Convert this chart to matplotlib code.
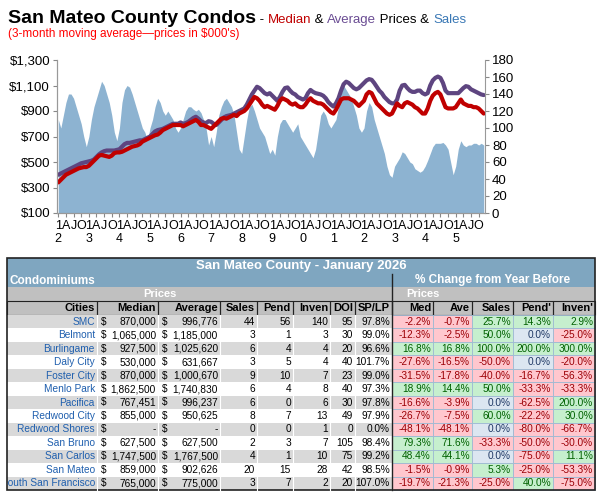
import numpy as np
import matplotlib
matplotlib.use("Agg")
import matplotlib.pyplot as plt
from matplotlib.patches import Rectangle

plt.rcParams['font.family'] = ['Liberation Sans', 'DejaVu Sans']

# monthly data Jan 2012 .. Dec 2025
sales = [110,100,115,130,140,140,135,125,115,105,90,78,
         90,110,125,135,145,155,150,140,130,115,95,85,
         100,130,145,150,148,140,130,120,110,100,95,85,
         100,110,125,135,130,120,115,120,115,110,100,95,
         100,110,120,125,125,122,120,122,118,110,100,80,
         90,78,95,115,125,132,135,130,125,115,95,75,
         70,90,110,125,128,120,110,100,95,90,80,70,
         75,68,90,105,110,110,105,100,95,100,105,90,
         85,80,75,70,65,75,95,115,120,115,105,100,
         105,110,125,140,150,145,140,135,125,115,100,95,
         100,120,130,125,110,100,90,80,70,55,45,42,
         55,60,65,72,70,65,60,58,52,50,48,50,
         55,62,70,78,82,82,82,83,80,75,60,45,
         55,75,85,80,78,80,80,82,82,80,82,80]
average = [400,410,420,430,440,450,460,470,480,490,495,500,
           505,510,520,540,560,575,585,590,590,590,590,595,
           600,620,640,650,650,655,660,665,670,670,680,690,
           700,720,740,750,755,760,770,780,790,800,800,800,
           810,800,805,815,830,845,855,840,820,810,805,820,
           815,800,790,810,830,850,860,865,870,880,890,900,
           910,920,950,990,1030,1060,1090,1080,1060,1040,1030,1040,
           1020,1000,980,1010,1050,1080,1085,1060,1040,1030,1010,1000,
           990,1000,1040,1065,1050,1040,1035,1030,1020,1000,970,950,
           935,960,1000,1060,1110,1130,1120,1100,1080,1070,1080,1100,
           1120,1140,1150,1145,1120,1090,1060,1040,1010,990,970,960,
           960,990,1060,1100,1105,1080,1060,1050,1050,1060,1060,1040,
           1030,1040,1100,1140,1160,1170,1160,1120,1060,1040,1040,1040,
           1040,1040,1060,1080,1095,1090,1070,1060,1050,1040,1030,1025]
median = [340,360,380,400,410,420,430,440,450,455,460,460,
          470,490,510,530,550,555,550,545,540,550,570,575,
          575,580,590,600,610,620,625,630,640,660,670,680,
          690,700,710,715,730,750,760,770,780,790,790,790,
          790,780,790,800,810,820,830,815,790,790,780,770,
          760,780,800,820,840,845,840,850,860,870,860,880,
          890,900,920,950,980,1010,1000,980,950,930,940,930,
          920,910,940,980,1000,990,980,960,950,960,940,930,
          930,950,980,1000,980,970,960,960,950,930,910,890,
          880,910,950,990,1000,1000,1000,990,980,960,940,960,
          980,1030,1050,1040,1000,960,940,920,900,880,870,880,
          920,960,940,930,960,970,960,950,930,920,900,880,
          880,920,980,1020,1040,1050,1030,980,930,920,920,920,
          930,960,990,960,950,940,940,930,930,920,900,880]
first_year = 2012

cities = ["SMC", "Belmont", "Burlingame", "Daly City", "Foster City", "Menlo Park",
          "Pacifica", "Redwood City", "Redwood Shores", "San Bruno", "San Carlos",
          "San Mateo", "South San Francisco"]
med_price = ["870,000", "1,065,000", "927,500", "530,000", "870,000", "1,862,500",
             "767,451", "855,000", "-", "627,500", "1,747,500", "859,000", "765,000"]
avg_price = ["996,776", "1,185,000", "1,025,620", "631,667", "1,000,670", "1,740,830",
             "996,237", "950,625", "-", "627,500", "1,767,500", "902,626", "775,000"]
n_sales = [44, 3, 6, 3, 9, 6, 6, 8, 0, 2, 4, 20, 3]
n_pend = [56, 1, 4, 5, 10, 4, 0, 7, 0, 3, 1, 15, 7]
n_inven = [140, 3, 4, 4, 7, 8, 6, 13, 1, 7, 10, 28, 2]
doi = [95, 30, 20, 40, 23, 40, 30, 49, 0, 105, 75, 42, 20]
sp_lp = ["97.8%", "99.0%", "96.6%", "101.7%", "99.0%", "97.3%", "97.8%", "97.9%",
         "0.0%", "98.4%", "99.2%", "98.5%", "107.0%"]
chg_med = [-2.2, -12.3, 16.8, -27.6, -31.5, 18.9, -16.6, -26.7, -48.1, 79.3, 48.4, -1.5, -19.7]
chg_ave = [-0.7, -2.5, 16.8, -16.5, -17.8, 14.4, -3.9, -7.5, -48.1, 71.6, 44.1, -0.9, -21.3]
chg_sales = [25.7, 50.0, 100.0, -50.0, -40.0, 50.0, 0.0, 60.0, 0.0, -33.3, 0.0, 5.3, -25.0]
chg_pend = [14.3, 0.0, 200.0, 0.0, -16.7, -33.3, -62.5, -22.2, -80.0, -50.0, -75.0, -25.0, 40.0]
chg_inven = [2.9, -25.0, 300.0, -20.0, -56.3, -33.3, 200.0, 30.0, -66.7, -30.0, 11.1, -53.3, -75.0]

W, H = 605, 495
fig = plt.figure(figsize=(W / 100, H / 100), dpi=100)

# ---- chart ----
x = np.arange(len(sales))
ax = fig.add_axes([57 / W, 1 - 213 / H, 428 / W, 153 / H])
axs = ax.twinx()
ax.set_zorder(2)
ax.patch.set_visible(False)
axs.fill_between(x, sales, 0, color="#8DB3D1", lw=0)
axs.set_ylim(0, 180)
axs.set_yticks(range(0, 181, 20))
ax.plot(x, average, color="#5E4580", lw=3, solid_capstyle="round")
ax.plot(x, median, color="#C00000", lw=3, solid_capstyle="round")
ax.set_ylim(100, 1300)
ax.set_yticks(range(100, 1301, 200))
ax.set_yticklabels(["$%s" % format(v, ",") for v in range(100, 1301, 200)])
ax.set_xlim(-0.5, len(sales) - 0.5)
ticks = list(range(0, len(sales), 3))
labels = []
for t in ticks:
    m = t % 12
    if m == 0:
        labels.append("1\n%d" % ((first_year + t // 12) % 10))
    else:
        labels.append({3: "A", 6: "J", 9: "O"}[m] + "\n ")
ax.set_xticks(ticks)
ax.set_xticklabels(labels, va="top", linespacing=1.15)
for a in (ax, axs):
    a.tick_params(labelsize=9.5, length=3, color="#888888", pad=2)
    for s in a.spines.values():
        s.set_color("#999999")
    a.spines["top"].set_visible(False)
ax.tick_params(axis="x", labelsize=9)
ax.spines["right"].set_visible(False)

# ---- title ----
def pieces(y, parts):
    xpos = 8
    r = fig.canvas.get_renderer()
    for txt, col, size, weight in parts:
        t = fig.text(xpos / W, 1 - y / H, txt, color=col, fontsize=size, fontweight=weight,
                     va="baseline", ha="left")
        xpos += t.get_window_extent(r).width
    return xpos

pieces(23, [("San Mateo County Condos", "black", 14, "bold"),
            (" - ", "black", 9.5, "normal"), ("Median", "#C00000", 9.5, "normal"),
            (" & ", "black", 9.5, "normal"), ("Average", "#6A4C93", 9.5, "normal"),
            (" Prices & ", "black", 9.5, "normal"), ("Sales", "#3A78B5", 9.5, "normal")])
fig.text(8 / W, 1 - 37 / H, "(3-month moving average\u2014prices in $000's)",
         color="#FF0000", fontsize=8.5, va="baseline")

# ---- table ----
tb = fig.add_axes([0, 0, 1, 1])
tb.set_xlim(0, W)
tb.set_ylim(H, 0)
tb.axis("off")
blue = "#7FA6C0"
gray = "#C0C0C0"
fs = 7.3

def box(x0, y0, x1, y1, fc, ec="none", lw=0.8):
    tb.add_patch(Rectangle((x0, y0), x1 - x0, y1 - y0, fc=fc, ec=ec, lw=lw))

def put(xx, yy, s, ha="right", col="black", size=fs, weight="normal", clip=False):
    t = tb.text(xx, yy, s, ha=ha, va="center", color=col, fontsize=size, fontweight=weight)
    if clip:
        t.set_clip_box(tb.bbox)
        t.set_clip_on(True)
        t.set_clip_path(Rectangle((L, 0), W, H, transform=tb.transData))

L, R = 7, 595
box(L, 258, R, 274, blue)
put((L + R) / 2, 266, "San Mateo County - January 2026", "center", "white", 9.5, "bold")
box(L, 274, 392, 287, blue)
box(392, 274, R, 287, blue)
put(10, 280.5, "Condominiums", "left", "white", 8.5, "bold")
put(493, 280.5, "% Change from Year Before", "center", "white", 8.5, "bold")
box(L, 287, 392, 301, gray)
box(392, 287, R, 301, gray)
put(160, 294, "Prices", "center", "white", 8, "bold")
put(423, 294, "Prices", "center", "white", 8, "bold")
box(L, 301, R, 315, gray)
cols = [(L, 97), (97, 158), (158, 220), (220, 257), (257, 293), (293, 330),
        (330, 355), (355, 392), (392, 433), (433, 472), (472, 513), (513, 553), (553, R)]
heads = ["Cities", "Median", "Average", "Sales", "Pend", "Inven", "DOI", "SP/LP",
         "Med", "Ave", "Sales", "Pend'", "Inven'"]
for (a, b), h in zip(cols, heads):
    box(a, 301, b, 315, "none", "#222222", 0.8)
    put(b - 2, 308, h, size=8, weight="bold")

rh = (490 - 315) / len(cities)
for i, c in enumerate(cities):
    y0 = 315 + i * rh
    yc = y0 + rh / 2
    box(L, y0, 392, y0 + rh, "#D9D9D9" if i % 2 == 0 else "white")
    for a, b in cols[:8]:
        tb.plot([b, b], [y0, y0 + rh], color="white", lw=0.8)
    put(95, yc, c, col="#1F5FAE", clip=True)
    put(101, yc, "$", "left")
    put(156, yc, med_price[i])
    put(162, yc, "$", "left")
    put(218, yc, avg_price[i])
    put(255, yc, str(n_sales[i]))
    put(291, yc, str(n_pend[i]))
    put(328, yc, str(n_inven[i]))
    put(353, yc, str(doi[i]))
    put(390, yc, sp_lp[i])
    for (a, b), v in zip(cols[8:], [chg_med[i], chg_ave[i], chg_sales[i], chg_pend[i], chg_inven[i]]):
        if v > 0:
            fc, tc = "#C6EFCE", "#006100"
        elif v < 0:
            fc, tc = "#FFC7CE", "#9C0006"
        else:
            fc, tc = "#DCE6F1", "#1F3864"
        box(a, y0, b, y0 + rh, fc, "#9DB9D3", 0.6)
        put(b - 2, yc, "%.1f%%" % v, col=tc)
box(L, 258, R, 490, "none", "#222222", 1.2)
tb.plot([392, 392], [274, 490], color="#222222", lw=1.0)

fig.savefig("out.png", dpi=100)
